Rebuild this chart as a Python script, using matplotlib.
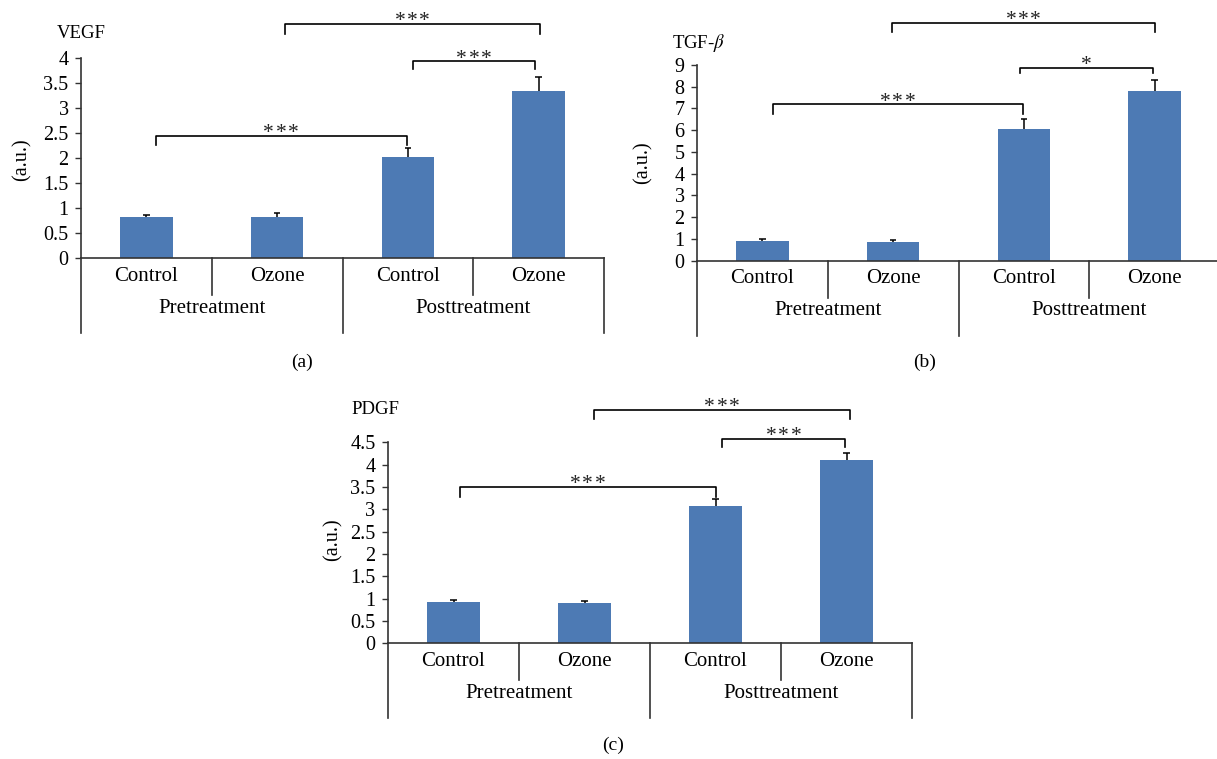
import matplotlib
matplotlib.use('Agg')
import matplotlib.pyplot as plt
from matplotlib.transforms import blended_transform_factory

plt.rcParams['font.family'] = ['Liberation Serif', 'DejaVu Serif']
plt.rcParams['mathtext.fontset'] = 'stix'

# ---------------- data ----------------
categories = ['Control', 'Ozone', 'Control', 'Ozone']
groups = ['Pretreatment', 'Posttreatment']

vegf_mean = [0.82, 0.83, 2.03, 3.34]
vegf_err = [0.05, 0.07, 0.18, 0.28]
vegf_ticks = [0, 0.5, 1, 1.5, 2, 2.5, 3, 3.5, 4]

tgf_mean = [0.92, 0.86, 6.06, 7.81]
tgf_err = [0.09, 0.07, 0.47, 0.49]
tgf_ticks = [0, 1, 2, 3, 4, 5, 6, 7, 8, 9]

pdgf_mean = [0.93, 0.91, 3.07, 4.10]
pdgf_err = [0.04, 0.04, 0.15, 0.16]
pdgf_ticks = [0, 0.5, 1, 1.5, 2, 2.5, 3, 3.5, 4, 4.5]

# significance brackets: (left leg, right leg, bracket top, leg bottom, label)
vegf_sig = [(0.07, 1.99, 2.45, 2.27, '***'),
            (2.04, 2.97, 3.94, 3.78, '***'),
            (1.06, 3.01, 4.69, 4.49, '***')]
tgf_sig = [(0.08, 1.99, 7.19, 6.73, '***'),
           (1.97, 2.99, 8.88, 8.62, '*'),
           (0.99, 3.00, 10.92, 10.53, '***')]
pdgf_sig = [(0.05, 2.00, 3.51, 3.28, '***'),
            (2.05, 2.99, 4.57, 4.40, '***'),
            (1.07, 3.03, 5.22, 5.02, '***')]

# ---------------- layout ----------------
W, H = 1217, 759
fig = plt.figure(figsize=(W / 100, H / 100), dpi=100)

BAR = '#4d7ab4'
AXC = '#333333'
STAR_FS = 15.5
STAR_GAP = 8.8  # points between star centres


def panel(box, means, errs, ticks, title, title_xy, ylab_xy, sub, sub_xy, sig):
    left, right, zero_y, top_y = box
    hpx = zero_y - top_y
    ax = fig.add_axes([left / W, 1 - zero_y / H, (right - left) / W, hpx / H])
    x = list(range(len(categories)))
    ax.bar(x, means, width=0.4, color=BAR, linewidth=0, zorder=2)
    tops = [m + e for m, e in zip(means, errs)]
    ax.vlines(x, means, tops, color='black', linewidth=1.1, zorder=3)
    ax.hlines(tops, [i - 0.025 for i in x], [i + 0.025 for i in x],
              color='black', linewidth=1.1, zorder=3)
    ax.set_xlim(-0.5, len(categories) - 0.5)
    ax.set_ylim(0, ticks[-1])
    ax.set_yticks(ticks)
    ax.set_yticklabels([f'{t:g}' for t in ticks])
    ax.tick_params(axis='y', direction='out', length=4, width=1, color=AXC,
                   labelsize=14.5, pad=5)
    ax.tick_params(axis='x', length=0, labelbottom=False)
    for s in ['top', 'right']:
        ax.spines[s].set_visible(False)
    for s in ['left', 'bottom']:
        ax.spines[s].set_color(AXC)
        ax.spines[s].set_linewidth(1.2)
    ax.patch.set_visible(False)

    tr = blended_transform_factory(ax.transData, ax.transAxes)
    short = -37 / hpx
    long_ = -75 / hpx
    for b in [-0.5, 1.5, 3.5]:
        ax.plot([b, b], [0, long_], transform=tr, color=AXC, lw=1.2, clip_on=False)
    for b in [0.5, 2.5]:
        ax.plot([b, b], [0, short], transform=tr, color=AXC, lw=1.2, clip_on=False)
    for i, c in enumerate(categories):
        ax.text(i, -18 / hpx, c, transform=tr, ha='center', va='center', fontsize=15)
    for g, name in enumerate(groups):
        ax.text(2 * g + 0.5, -50 / hpx, name, transform=tr, ha='center',
                va='center', fontsize=15)

    for (x1, x2, yt, yb, lab) in sig:
        ax.plot([x1, x1, x2, x2], [yb, yt, yt, yb], color='black', lw=1.2,
                clip_on=False, zorder=4)
        n = len(lab)
        for k in range(n):
            dx = (k - (n - 1) / 2) * STAR_GAP
            ax.annotate('*', xy=((x1 + x2) / 2, yt),
                        xytext=(dx, -1.6), textcoords='offset points',
                        ha='center', va='baseline', fontsize=STAR_FS,
                        annotation_clip=False, color='#222222')

    fig.text(title_xy[0] / W, 1 - title_xy[1] / H, title, ha='center',
             va='center', fontsize=13.5)
    fig.text(ylab_xy[0] / W, 1 - ylab_xy[1] / H, '(a.u.)', ha='center',
             va='center', fontsize=14.5, rotation=90)
    fig.text(sub_xy[0] / W, 1 - sub_xy[1] / H, sub, ha='center', va='center',
             fontsize=14)
    return ax


panel((81, 604, 258.3, 58.3), vegf_mean, vegf_err, vegf_ticks, 'VEGF',
      (81, 33), (22, 160), '(a)', (302, 362), vegf_sig)
panel((697, 1220, 260.7, 65.0), tgf_mean, tgf_err, tgf_ticks, r'TGF-$\beta$',
      (699, 43), (643, 163), '(b)', (925, 362), tgf_sig)
panel((388, 912, 643.3, 442.3), pdgf_mean, pdgf_err, pdgf_ticks, 'PDGF',
      (375, 410), (333, 540), '(c)', (613, 745), pdgf_sig)

fig.savefig('out.png', dpi=100)
